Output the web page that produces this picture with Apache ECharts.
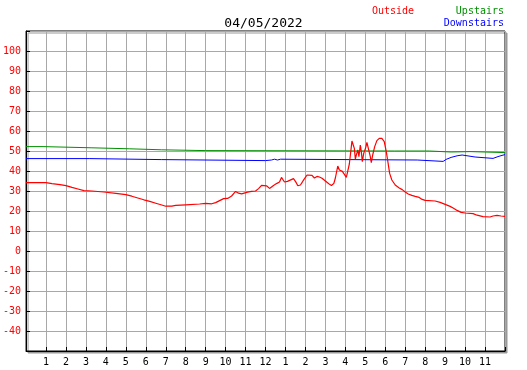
<!DOCTYPE html>
<html>
<head>
<meta charset="utf-8">
<script src="https://cdn.jsdelivr.net/npm/echarts@6/dist/echarts.min.js"></script>
<style>
html, body { margin: 0; padding: 0; background: #fff; }
#chart { width: 527px; height: 370px; }
</style>
</head>
<body>
<div id="chart"></div>
<script>
// date shown on top
var chartDate = "04/05/2022";

// outside temperature: hour of day, value
var outsideHours = [0, 1.0, 1.3, 1.7, 2.0, 2.3, 2.6, 2.9, 3.3, 3.9, 4.5, 5.0, 5.3, 5.6, 5.9, 6.2, 6.5, 6.8, 7.0, 7.3, 7.5, 8.0, 8.7, 9.0, 9.3, 9.5, 9.7, 9.9, 10.1, 10.3, 10.5, 10.65, 10.8, 10.9, 11.1, 11.3, 11.5, 11.65, 11.8, 11.9,
  12.05, 12.2, 12.4, 12.55, 12.7, 12.8, 12.87, 12.95, 13.1, 13.2, 13.4, 13.5, 13.62, 13.75, 13.92, 14.08, 14.33, 14.45, 14.58, 14.7, 14.83, 15.0, 15.17, 15.3, 15.42, 15.5, 15.62, 15.7, 15.85, 15.95,
  16.05, 16.12, 16.2, 16.28, 16.33, 16.42, 16.45, 16.5, 16.55, 16.63, 16.68, 16.75, 16.8, 16.85, 16.92, 17.02, 17.08, 17.18, 17.25, 17.3, 17.37, 17.47, 17.58, 17.7, 17.83, 17.95,
  18.05, 18.13, 18.22, 18.33, 18.5, 18.6, 18.7, 18.85, 19.0, 19.15, 19.33, 19.5, 19.7, 19.85, 20.0, 20.5, 20.75, 21.0, 21.25, 21.4, 21.6, 21.8, 22.0, 22.4, 22.6, 22.9, 23.25, 23.4, 23.6, 23.8, 24.0];
var outsideTemps = [34.2, 34.2, 33.7, 33.2, 32.7, 31.8, 31.0, 30.2, 30.0, 29.5, 28.8, 28.2, 27.4, 26.5, 25.6, 24.8, 23.9, 23.0, 22.4, 22.4, 22.8, 23.1, 23.5, 23.8, 23.6, 24.2, 25.2, 26.2, 26.3, 27.5, 29.8, 28.9, 28.6, 29.6, 29.4, 29.8, 30.0, 31.2, 32.8, 32.4,
  32.6, 31.3, 32.8, 33.7, 34.5, 36.8, 35.8, 34.5, 34.8, 35.3, 36.2, 34.8, 32.6, 33.0, 35.7, 38.0, 37.8, 36.5, 37.3, 37.0, 36.4, 35.0, 33.6, 32.8, 33.7, 36.5, 42.5, 40.5, 39.8, 39.5,
  36.8, 37.5, 43.5, 50.5, 55.0, 56.0, 51.3, 46.0, 48.0, 50.5, 47.2, 53.0, 49.7, 44.7, 48.8, 51.7, 54.3, 54.3, 47.2, 44.2, 48.0, 52.2, 55.2, 56.3, 56.3, 54.7,
  49.7, 44.7, 38.8, 35.5, 33.0, 32.2, 31.5, 30.7, 29.5, 28.5, 27.8, 27.3, 26.8, 25.8, 25.3, 25.0, 24.3, 23.3, 22.3, 21.5, 20.3, 19.3, 19.0, 18.7, 17.9, 17.2, 17.0, 17.5, 17.8, 17.5, 17.3];

// upstairs: value holds until the next hour
var upstairsHours = [0, 0.85, 3.3, 5.2, 6.8, 9.0, 18.45, 18.55, 20.2, 21.3, 22.25, 22.35, 24];
var upstairsTemps = [52.2, 51.6, 51.1, 50.6, 50.2, 50.0, 50.6, 50.0, 49.5, 49.7, 50.0, 49.2, 49.2];

// downstairs
var downstairsHours = [0, 3.2, 6.8, 12.0, 12.3, 12.45, 12.6, 12.75, 19.6, 20.9, 21.05, 21.3, 21.6, 21.85, 22.5, 23.4, 23.5, 23.65, 23.85, 24];
var downstairsTemps = [46.2, 45.7, 45.2, 45.5, 45.9, 45.5, 45.9, 45.5, 44.8, 45.8, 46.8, 47.6, 48.0, 47.0, 46.3, 46.3, 47.2, 47.8, 48.2, 48.2];

function pairs(xs, ys) {
  var out = [];
  for (var i = 0; i < xs.length; i++) {
    out.push([xs[i], ys[i]]);
  }
  return out;
}

var mono = "DejaVu Sans Mono";
var chart = echarts.init(document.getElementById('chart'));

var option = {
  animation: false,
  backgroundColor: '#fff',
  title: {
    text: chartDate,
    left: 'center',
    top: 12,
    textStyle: { fontFamily: mono, fontSize: 13, fontWeight: 'normal', color: '#000' }
  },
  graphic: [
    { type: 'text', right: 23, top: 6, style: { text: 'Upstairs', fill: '#009000', font: '10px ' + mono } },
    { type: 'text', right: 23, top: 18, style: { text: 'Downstairs', fill: '#0000ff', font: '10px ' + mono } },
    { type: 'text', left: 372, top: 6, style: { text: 'Outside', fill: '#ff0000', font: '10px ' + mono } }
  ],
  grid: {
    left: 25, top: 31, width: 480, height: 320,
    show: true,
    backgroundColor: '#fff',
    borderColor: '#000',
    borderWidth: 1,
    shadowColor: '#999',
    shadowBlur: 0,
    shadowOffsetX: 2,
    shadowOffsetY: 2
  },
  xAxis: {
    type: 'value',
    min: 0, max: 24, interval: 1,
    axisLine: { onZero: false, lineStyle: { color: '#000' } },
    axisTick: { inside: true, length: 4, lineStyle: { color: '#000' } },
    splitLine: { show: true, lineStyle: { color: '#a8a8a8', width: 1 } },
    axisLabel: {
      color: '#000', fontFamily: mono, fontSize: 10, margin: 6,
      formatter: function (v) {
        if (v <= 0 || v >= 24) return '';
        var h = v % 12;
        return h === 0 ? '12' : String(h);
      }
    }
  },
  yAxis: {
    type: 'value',
    min: -50, max: 110, interval: 10,
    axisLine: { show: true, onZero: false, lineStyle: { color: '#000' } },
    axisTick: { show: true, inside: true, length: 4, lineStyle: { color: '#000' } },
    splitLine: { show: true, lineStyle: { color: '#a8a8a8', width: 1 } },
    axisLabel: {
      color: '#ff0000', fontFamily: mono, fontSize: 10, margin: 5,
      formatter: function (v) {
        if (v <= -50 || v >= 110) return '';
        return String(v);
      }
    }
  },
  series: [
    {
      name: 'Upstairs', type: 'line', step: 'end', showSymbol: false,
      data: pairs(upstairsHours, upstairsTemps),
      lineStyle: { color: '#009000', width: 1 }
    },
    {
      name: 'Downstairs', type: 'line', step: 'end', showSymbol: false,
      data: pairs(downstairsHours, downstairsTemps),
      lineStyle: { color: '#0000ff', width: 1 }
    },
    {
      name: 'Outside', type: 'line', showSymbol: false,
      data: pairs(outsideHours, outsideTemps),
      lineStyle: { color: '#ff0000', width: 1.2 }
    }
  ]
};
chart.setOption(option);
</script>
</body>
</html>
